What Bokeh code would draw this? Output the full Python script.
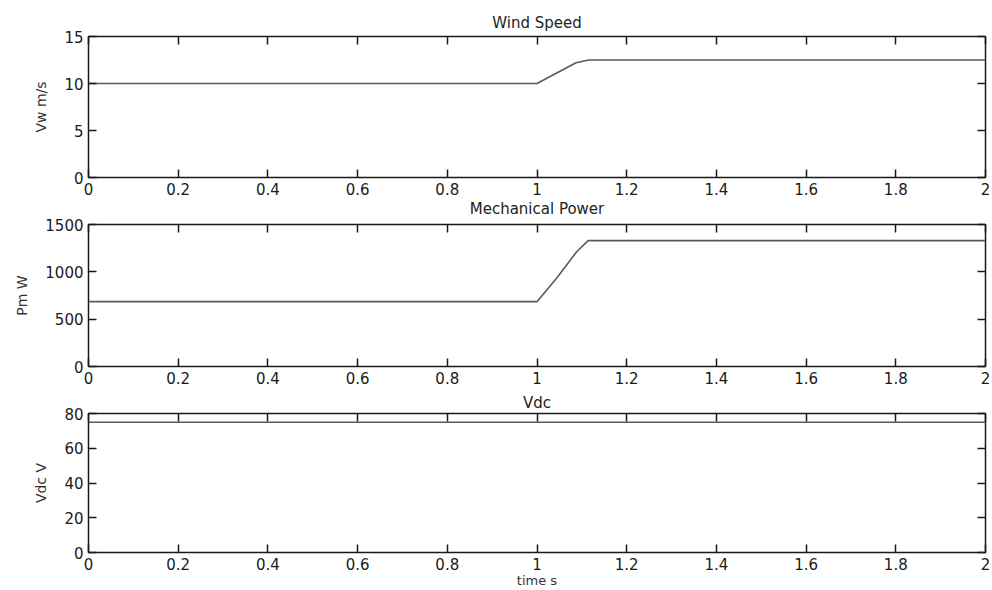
from bokeh.plotting import figure
from bokeh.models import Range1d, LinearAxis, FixedTicker, NumeralTickFormatter, Title
from bokeh.layouts import column
from bokeh.embed import file_html
from bokeh.resources import INLINE

# ---- data ----
time_wind = [0.0, 1.0, 1.087, 1.115, 2.0]
wind_speed = [10.0, 10.0, 12.2, 12.5, 12.5]

time_power = [0.0, 1.0, 1.045, 1.088, 1.114, 2.0]
mech_power = [685, 685, 940, 1210, 1330, 1330]

time_vdc = [0.0, 2.0]
vdc_volts = [75.0, 75.0]

x_ticks = [0, 0.2, 0.4, 0.6, 0.8, 1.0, 1.2, 1.4, 1.6, 1.8, 2.0]
wind_ticks = [0, 5, 10, 15]
power_ticks = [0, 500, 1000, 1500]
vdc_ticks = [0, 20, 40, 60, 80]

titles = ["Wind Speed", "Mechanical Power", "Vdc"]
y_labels = ["Vw m/s", "Pm W", "Vdc V"]
x_label = "time s"

FONT = "DejaVu Sans"
INK = "#1a1a1a"


def style_axis(ax, ticks, labels=True, fmt="0.[0]"):
    ax.ticker = FixedTicker(ticks=ticks)
    ax.axis_line_color = None
    ax.major_tick_in = 8
    ax.major_tick_out = 0
    ax.major_tick_line_color = INK
    ax.major_tick_line_width = 1.5
    ax.minor_tick_line_color = None
    if labels:
        ax.formatter = NumeralTickFormatter(format=fmt)
        ax.major_label_text_font = FONT
        ax.major_label_text_font_size = "15px"
        ax.major_label_text_color = INK
        ax.major_label_standoff = 5
    else:
        # tick marks only: no label text is drawn
        ax.major_label_text_color = None
        ax.major_label_text_font_size = "1px"
        ax.major_label_standoff = 0


def make_title(text, standoff):
    return Title(text=text, align="center", text_font=FONT,
                 text_font_size="15px", text_font_style="normal",
                 text_color="#222222", standoff=standoff)


def panel(height, top, bottom, ts, ys, ymax, yticks, ylabel, xlabel=None):
    p = figure(width=992, height=height,
               x_range=Range1d(0, 2), y_range=Range1d(0, ymax),
               output_backend="svg", toolbar_location=None,
               min_border_left=88, min_border_right=7,
               min_border_top=top, min_border_bottom=bottom,
               background_fill_color="white", border_fill_color="white",
               outline_line_color=INK, outline_line_width=1.5)
    p.xgrid.grid_line_color = None
    p.ygrid.grid_line_color = None

    style_axis(p.xaxis[0], x_ticks, True, "0.[0]")
    style_axis(p.yaxis[0], yticks, True, "0")
    p.yaxis[0].axis_label = ylabel
    p.yaxis[0].axis_label_text_font = FONT
    p.yaxis[0].axis_label_text_font_size = "14px"
    p.yaxis[0].axis_label_text_font_style = "normal"
    p.yaxis[0].axis_label_text_color = "#333333"
    p.yaxis[0].axis_label_standoff = 12
    if xlabel:
        p.xaxis[0].axis_label = xlabel
        p.xaxis[0].axis_label_text_font = FONT
        p.xaxis[0].axis_label_text_font_size = "13px"
        p.xaxis[0].axis_label_text_font_style = "normal"
        p.xaxis[0].axis_label_text_color = "#333333"
        p.xaxis[0].axis_label_standoff = 0

    top_ax = LinearAxis()
    style_axis(top_ax, x_ticks, False)
    p.add_layout(top_ax, "above")
    right_ax = LinearAxis()
    style_axis(right_ax, yticks, False)
    p.add_layout(right_ax, "right")

    p.line(ts, ys, line_color="#5a5a5a", line_width=1.6)
    return p


p1 = panel(217, 36, 40, time_wind, wind_speed, 15, wind_ticks, y_labels[0])
p1.title = make_title(titles[0], 10)
# MATLAB-style: the next panel's title sits just under this panel's tick labels
p1.add_layout(make_title(titles[1], 0), "below")

p2 = panel(173, 7, 24, time_power, mech_power, 1500, power_ticks, y_labels[1])

p3 = panel(200, 23, 37, time_vdc, vdc_volts, 80, vdc_ticks, y_labels[2],
           xlabel=x_label)
p3.title = make_title(titles[2], 3)

layout = column(p1, p2, p3, spacing=0)

open("out.html", "w").write(file_html(layout, INLINE))
